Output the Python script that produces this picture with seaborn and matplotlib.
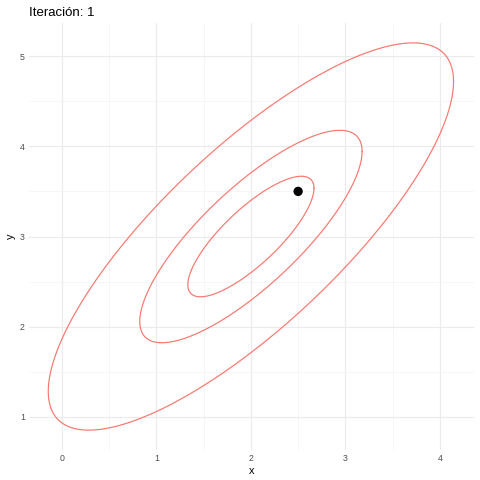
import numpy as np
import pandas as pd
import matplotlib
matplotlib.use("Agg")
import matplotlib.pyplot as plt
import seaborn as sns
from matplotlib.ticker import MultipleLocator

# ---- data ----
center = [2.0, 3.0]
cov = [[1.0, 0.8], [0.8, 1.0]]
levels = [0.2, 0.5, 0.9]
point_x = [2.5]
point_y = [3.5]
title = "Iteración: 1"

# ellipse contours of the bivariate normal (chi-square, 2 df)
L = np.linalg.cholesky(np.array(cov))
t = np.linspace(0, 2 * np.pi, 200)
circle = np.vstack([np.cos(t), np.sin(t)])
rows = []
for p in levels:
    r = np.sqrt(-2 * np.log(1 - p))
    pts = (L @ circle) * r
    rows.append(pd.DataFrame({"x": pts[0] + center[0], "y": pts[1] + center[1], "level": p}))
ell = pd.concat(rows, ignore_index=True)
pt = pd.DataFrame({"x": point_x, "y": point_y})

sns.set_theme(style="whitegrid")
plt.rcParams['font.family'] = ['Liberation Sans', 'DejaVu Sans']

fig = plt.figure(figsize=(4.8, 4.8), dpi=100)
ax = fig.add_axes([0.0604, 0.0625, 0.927, 0.8895])

sns.lineplot(data=ell, x="x", y="y", units="level", estimator=None, sort=False,
             color="#F8766D", linewidth=0.85, ax=ax)
sns.scatterplot(data=pt, x="x", y="y", color="black", s=45, edgecolor="none", ax=ax, zorder=5)

ax.set_xlim(-0.35, 4.362)
ax.set_ylim(0.634, 5.366)
ax.xaxis.set_major_locator(MultipleLocator(1))
ax.yaxis.set_major_locator(MultipleLocator(1))
ax.xaxis.set_minor_locator(MultipleLocator(0.5))
ax.yaxis.set_minor_locator(MultipleLocator(0.5))
ax.grid(which="major", color="#EBEBEB", linewidth=0.85)
ax.grid(which="minor", color="#F2F2F2", linewidth=0.45)
ax.set_facecolor("white")
for s in ax.spines.values():
    s.set_visible(False)
ax.tick_params(axis="both", which="both", length=0, labelsize=6.3, labelcolor="#4D4D4D", pad=3)
ax.set_xlabel("x", fontsize=7.9, color="black", labelpad=2)
ax.set_ylabel("y", fontsize=7.9, color="black", labelpad=3)
ax.set_title(title, loc="left", fontsize=9.5, color="black", pad=5)

fig.savefig("out.png", dpi=100)
